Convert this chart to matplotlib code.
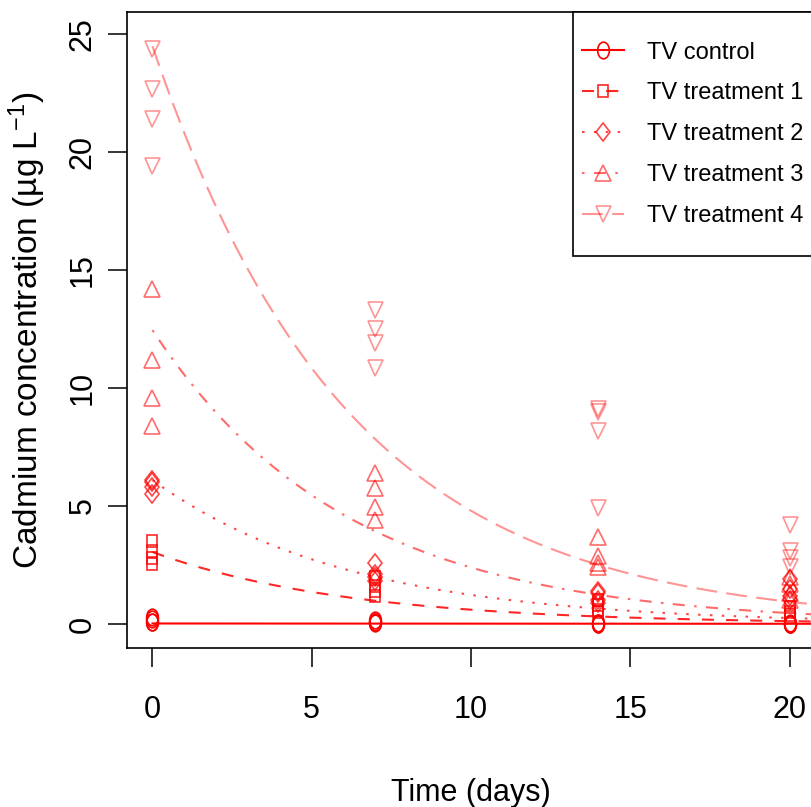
import numpy as np
import matplotlib
matplotlib.use("Agg")
import matplotlib.pyplot as plt
from matplotlib.markers import MarkerStyle
from matplotlib.transforms import Affine2D

plt.rcParams["font.family"] = ["Liberation Sans", "DejaVu Sans"]
plt.rcParams["mathtext.default"] = "regular"

# sampling days, four replicates per day
days = [0, 7, 14, 20]
labels = ["TV control", "TV treatment 1", "TV treatment 2", "TV treatment 3", "TV treatment 4"]

control = [[0.3, 0.2, 0.1, 0.1], [0.15, 0.1, 0.1, 0.05], [0.05, 0.05, 0.0, 0.0], [0.05, 0.0, 0.0, 0.0]]
treatment1 = [[3.5, 3.1, 2.8, 2.55], [2.0, 1.6, 1.4, 1.2], [1.0, 0.8, 0.6, 0.5], [0.7, 0.5, 0.4, 0.3]]
treatment2 = [[6.1, 6.0, 5.8, 5.5], [2.6, 2.1, 2.0, 1.8], [1.4, 1.3, 1.0, 0.9], [1.9, 1.5, 1.2, 1.0]]
treatment3 = [[14.2, 11.2, 9.6, 8.4], [6.4, 5.75, 4.95, 4.4], [3.7, 2.9, 2.6, 2.4], [2.0, 1.7, 1.3, 1.0]]
treatment4 = [[24.4, 22.7, 21.4, 19.4], [13.3, 12.5, 11.9, 10.85], [9.1, 9.0, 8.2, 4.9], [4.2, 3.1, 2.8, 2.4]]

# first-order decay fits: c0 * exp(-k t)
fit_c0 = [0.02, 3.05, 6.1, 12.46, 24.5]
fit_k = [0.05, 0.162, 0.16, 0.165, 0.163]

series = [control, treatment1, treatment2, treatment3, treatment4]
alphas = [1.0, 0.85, 0.72, 0.58, 0.42]
markers = ["o", "s", "D", "^", "v"]
marker_sizes = [12, 9, 9.5, 12, 12]
marker_xscale = [0.7, 0.8, 0.75, 0.9, 0.9]
dashes = [None, (5.8, 5.8), (1.2, 4.5), (1.2, 4.5, 5.8, 4.5), (10, 4.5)]

fig = plt.figure(figsize=(8.12, 8.07), dpi=100)
ax = fig.add_axes([127 / 812, 159 / 807, 688 / 812, 636 / 807])

t = np.linspace(0, 21, 300)
for i, data in enumerate(series):
    col = (1.0, 0.0, 0.0, alphas[i])
    xs = [d for d, reps in zip(days, data) for _ in reps]
    ys = [v for reps in data for v in reps]
    m = MarkerStyle(markers[i], fillstyle="none", transform=Affine2D().scale(marker_xscale[i], 1.0))
    ax.plot(xs, ys, linestyle="none", marker=m, ms=marker_sizes[i], mec=col, mfc="none", mew=1.2)
    line, = ax.plot(t, fit_c0[i] * np.exp(-fit_k[i] * t), color=col, lw=1.5)
    if dashes[i] is not None:
        line.set_dashes(dashes[i])
    # legend proxy
    proxy, = ax.plot([], [], color=col, lw=1.5, marker=m, ms=marker_sizes[i], mec=col, mfc="none",
                     mew=1.2, label=labels[i])
    if dashes[i] is not None:
        proxy.set_dashes(dashes[i])

ax.set_xlim(-0.8, 20.8)
ax.set_ylim(-1.02, 25.95)
ax.set_xticks([0, 5, 10, 15, 20])
ax.set_yticks([0, 5, 10, 15, 20, 25])
ax.tick_params(axis="both", direction="out", length=14, width=1.1, labelsize=22)
ax.tick_params(axis="x", pad=20)
ax.tick_params(axis="y", pad=7)
for lab in ax.get_yticklabels():
    lab.set_rotation(90)
    lab.set_va("center")
for s in ax.spines.values():
    s.set_linewidth(1.2)

ax.set_xlabel("Time (days)", fontsize=22, labelpad=38)
ax.set_ylabel("Cadmium concentration (µg L$^{-1}$)", fontsize=24, labelpad=14)

leg = ax.legend(loc="upper left", bbox_to_anchor=(573 / 812, 795 / 807), bbox_transform=fig.transFigure,
                fontsize=17, frameon=True, fancybox=False, framealpha=1,
                edgecolor="black", borderaxespad=0, handlelength=1.75, handletextpad=0.97,
                handleheight=3.6, labelspacing=-0.85, borderpad=0.4)
leg.get_frame().set_linewidth(1.2)
# tall rows push the handles above the text; drop them back onto the text line
for h in leg.legend_handles:
    h.set_ydata(np.asarray(h.get_ydata()) - 7.5)

plt.savefig("out.png", dpi=100)
